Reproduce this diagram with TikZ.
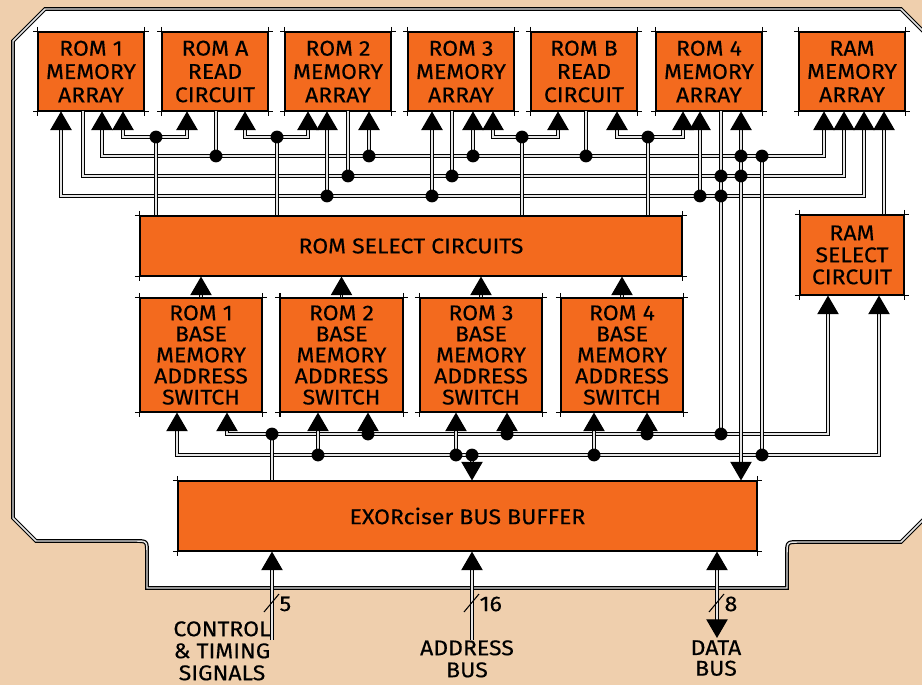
\documentclass[tikz,border=0pt]{standalone}
\usepackage{fontspec}
\setmainfont{Fira Sans}[FakeStretch=1.08,FakeBold=0.3]
\usetikzlibrary{arrows.meta}
\definecolor{chiporange}{RGB}{243,106,30}
\definecolor{paper}{RGB}{239,207,173}
\tikzset{
  wire/.style={line width=.9pt,double=white!90!black,double distance=1.1pt},
  pin/.style={wire,-{Triangle[width=16pt,length=14pt]}},
  pins/.style={wire,{Triangle[width=16pt,length=14pt]}-{Triangle[width=16pt,length=14pt]}},
  overshoot/.style={draw,line width=.8pt,shorten <=-3.5pt,shorten >=-3.5pt},
  chip/.style={fill=chiporange,draw=black,line width=.8pt,align=center,inner sep=0pt,
    append after command={\pgfextra{\path (\tikzlastnode.north west) edge[overshoot] (\tikzlastnode.north east)
      (\tikzlastnode.south west) edge[overshoot] (\tikzlastnode.south east)
      (\tikzlastnode.north west) edge[overshoot] (\tikzlastnode.south west)
      (\tikzlastnode.north east) edge[overshoot] (\tikzlastnode.south east);}}},
  memarray/.style={chip,minimum width=79pt,minimum height=59pt,font=\fontsize{16}{17.5}\selectfont},
  basesw/.style={chip,minimum width=91.5pt,minimum height=85.5pt,font=\fontsize{16}{15.8}\selectfont}
}
\begin{document}
\begin{tikzpicture}[x=.75pt,y=-.75pt,font=\fontsize{16}{16.5}\selectfont]
\clip (0,0) rectangle (922,685);
\fill[paper] (0,0) rectangle (922,685);
\draw[wire,fill=white] (45,9) -- (901,9) -- (931,39) -- (931,512) -- (901,542) -- (799,542) .. controls (787,542) .. (787,554) -- (787,588) -- (147,588) -- (147,553) .. controls (147,541) .. (135,541) -- (36,541) -- (13,518) -- (13,41) -- cycle;
% memory arrays and read circuits
\node[memarray] (rom1) at (91,71.5) {ROM 1\\MEMORY\\ARRAY};
\node[memarray] (romA) at (215,71.5) {ROM A\\READ\\CIRCUIT};
\node[memarray] (rom2) at (338,71.5) {ROM 2\\MEMORY\\ARRAY};
\node[memarray] (rom3) at (461,71.5) {ROM 3\\MEMORY\\ARRAY};
\node[memarray] (romB) at (584,71.5) {ROM B\\READ\\CIRCUIT};
\node[memarray] (rom4) at (709,71.5) {ROM 4\\MEMORY\\ARRAY};
\node[memarray] (ram) at (852,71.5) {RAM\\MEMORY\\ARRAY};
\node[chip,minimum width=406.5pt,minimum height=45pt] (romsel) at (411,246) {ROM SELECT CIRCUITS};
\foreach \n/\x in {1/201,2/341.5,3/481,4/622}
  \node[basesw] (base\n) at (\x,355) {ROM \n\\BASE\\MEMORY\\ADDRESS\\SWITCH};
\node[chip,minimum width=78pt,minimum height=60pt,font=\fontsize{16}{16.5}\selectfont] (ramsel) at (852,255) {RAM\\SELECT\\CIRCUIT};
\node[chip,minimum width=434pt,minimum height=52.5pt] (buffer) at (467.5,516) {EXORciser BUS BUFFER};
% upper buses
\coordinate (aL) at (102,156); \coordinate (aR) at (824,156);
\coordinate (bL) at (83,176); \coordinate (bR) at (844,176);
\coordinate (cL) at (61,196); \coordinate (cR) at (864,196);
\draw[pins] (aL |- rom1.south) -- (aL) -- (aR) -- (aR |- ram.south);
\draw[pin] (bL |- rom1.south) -- (bL) -- (bR) -- (bR |- ram.south);
\draw[pins] (cL |- rom1.south) -- (cL) -- (cR) -- (cR |- ram.south);
\foreach \l/\r/\j/\a/\b in {123/187/156/rom1/romA,245/308/277/romA/rom2,493/558/522/rom3/romB,617/683/648/romB/rom4} {
  \draw[pins] (\l,137 |- \a.south) -- (\l,137) -- (\r,137) -- (\r,137 |- \b.south);
  \draw[wire] (\j,137) -- (\j,137 |- romsel.north);
  \fill (\j,137) circle (4.8pt);}
\foreach \x/\y/\b in {369/156/rom2,473/156/rom3,327/196/rom2,432/196/rom3,700/196/rom4}
  \draw[pin] (\x,\y) -- (\x,\y |- \b.south);
\foreach \x/\y/\b in {216/156/romA,586/156/romB,348/176/rom2,452/176/rom3}
  \draw[wire] (\x,\y) -- (\x,\y |- \b.south);
% lower buses
\coordinate (dL) at (227,434); \coordinate (dR) at (828,434);
\coordinate (eL) at (177,455); \coordinate (eR) at (879,455);
\draw[pins] (dL |- base1.south) -- (dL) -- (dR) -- (dR |- ramsel.south);
\draw[pins] (eL |- base1.south) -- (eL) -- (eR) -- (eR |- ramsel.south);
\foreach \x/\y/\b in {368/434/base2,507/434/base3,647/434/base4,318/455/base2,456/455/base3,594/455/base4}
  \draw[pin] (\x,\y) -- (\x,\y |- \b.south);
\foreach \n in {1,...,4} \draw[pin] (base\n.north) -- (base\n.north |- romsel.south);
\draw[pin] (ramsel.north -| 884,0) -- (ram.south -| 884,0);
\draw[wire] (rom4.south -| 721,0) -- (721,434);
\draw[pins] (rom4.south -| 741,0) -- (buffer.north -| 741,0);
\draw[wire] (762,156) -- (762,455);
\draw[wire] (272,434) -- (272,434 |- buffer.north);
\draw[pin] (472,455) -- (472,455 |- buffer.north);
% system bus
\coordinate (ctl) at (272,640); \coordinate (adr) at (472,640); \coordinate (dat) at (717,638);
\draw[pin] (ctl) -- (ctl |- buffer.south);
\draw[pin] (adr) -- (adr |- buffer.south);
\draw[pins] (dat) -- (dat |- buffer.south);
\foreach \x/\w in {272/5,472/16,717/8} {
  \draw[line width=.8pt] (\x-8,612) -- (\x+7,594);
  \node[anchor=west,inner sep=1pt] (w\w) at (\x+6,604) {\w};}
\node[align=center,anchor=north,inner sep=0pt] (ctltxt) at (222,621) {CONTROL\\\& TIMING\\SIGNALS};
\node[align=center,anchor=north,inner sep=0pt] (adrtxt) at (467,640) {ADDRESS\\BUS};
\node[align=center,anchor=north,inner sep=0pt,font=\fontsize{16}{15.5}\selectfont] (dattxt) at (716,640) {DATA\\BUS};
\foreach \p in {(216,156),(369,156),(473,156),(586,156),(741,156),(762,156),(348,176),(452,176),(721,176),(741,176),(327,196),(432,196),(700,196),(721,196),(272,434),(368,434),(507,434),(647,434),(721,434),(318,455),(456,455),(472,455),(594,455),(762,455)}
  \fill \p circle (4.8pt);
\end{tikzpicture}
\end{document}
